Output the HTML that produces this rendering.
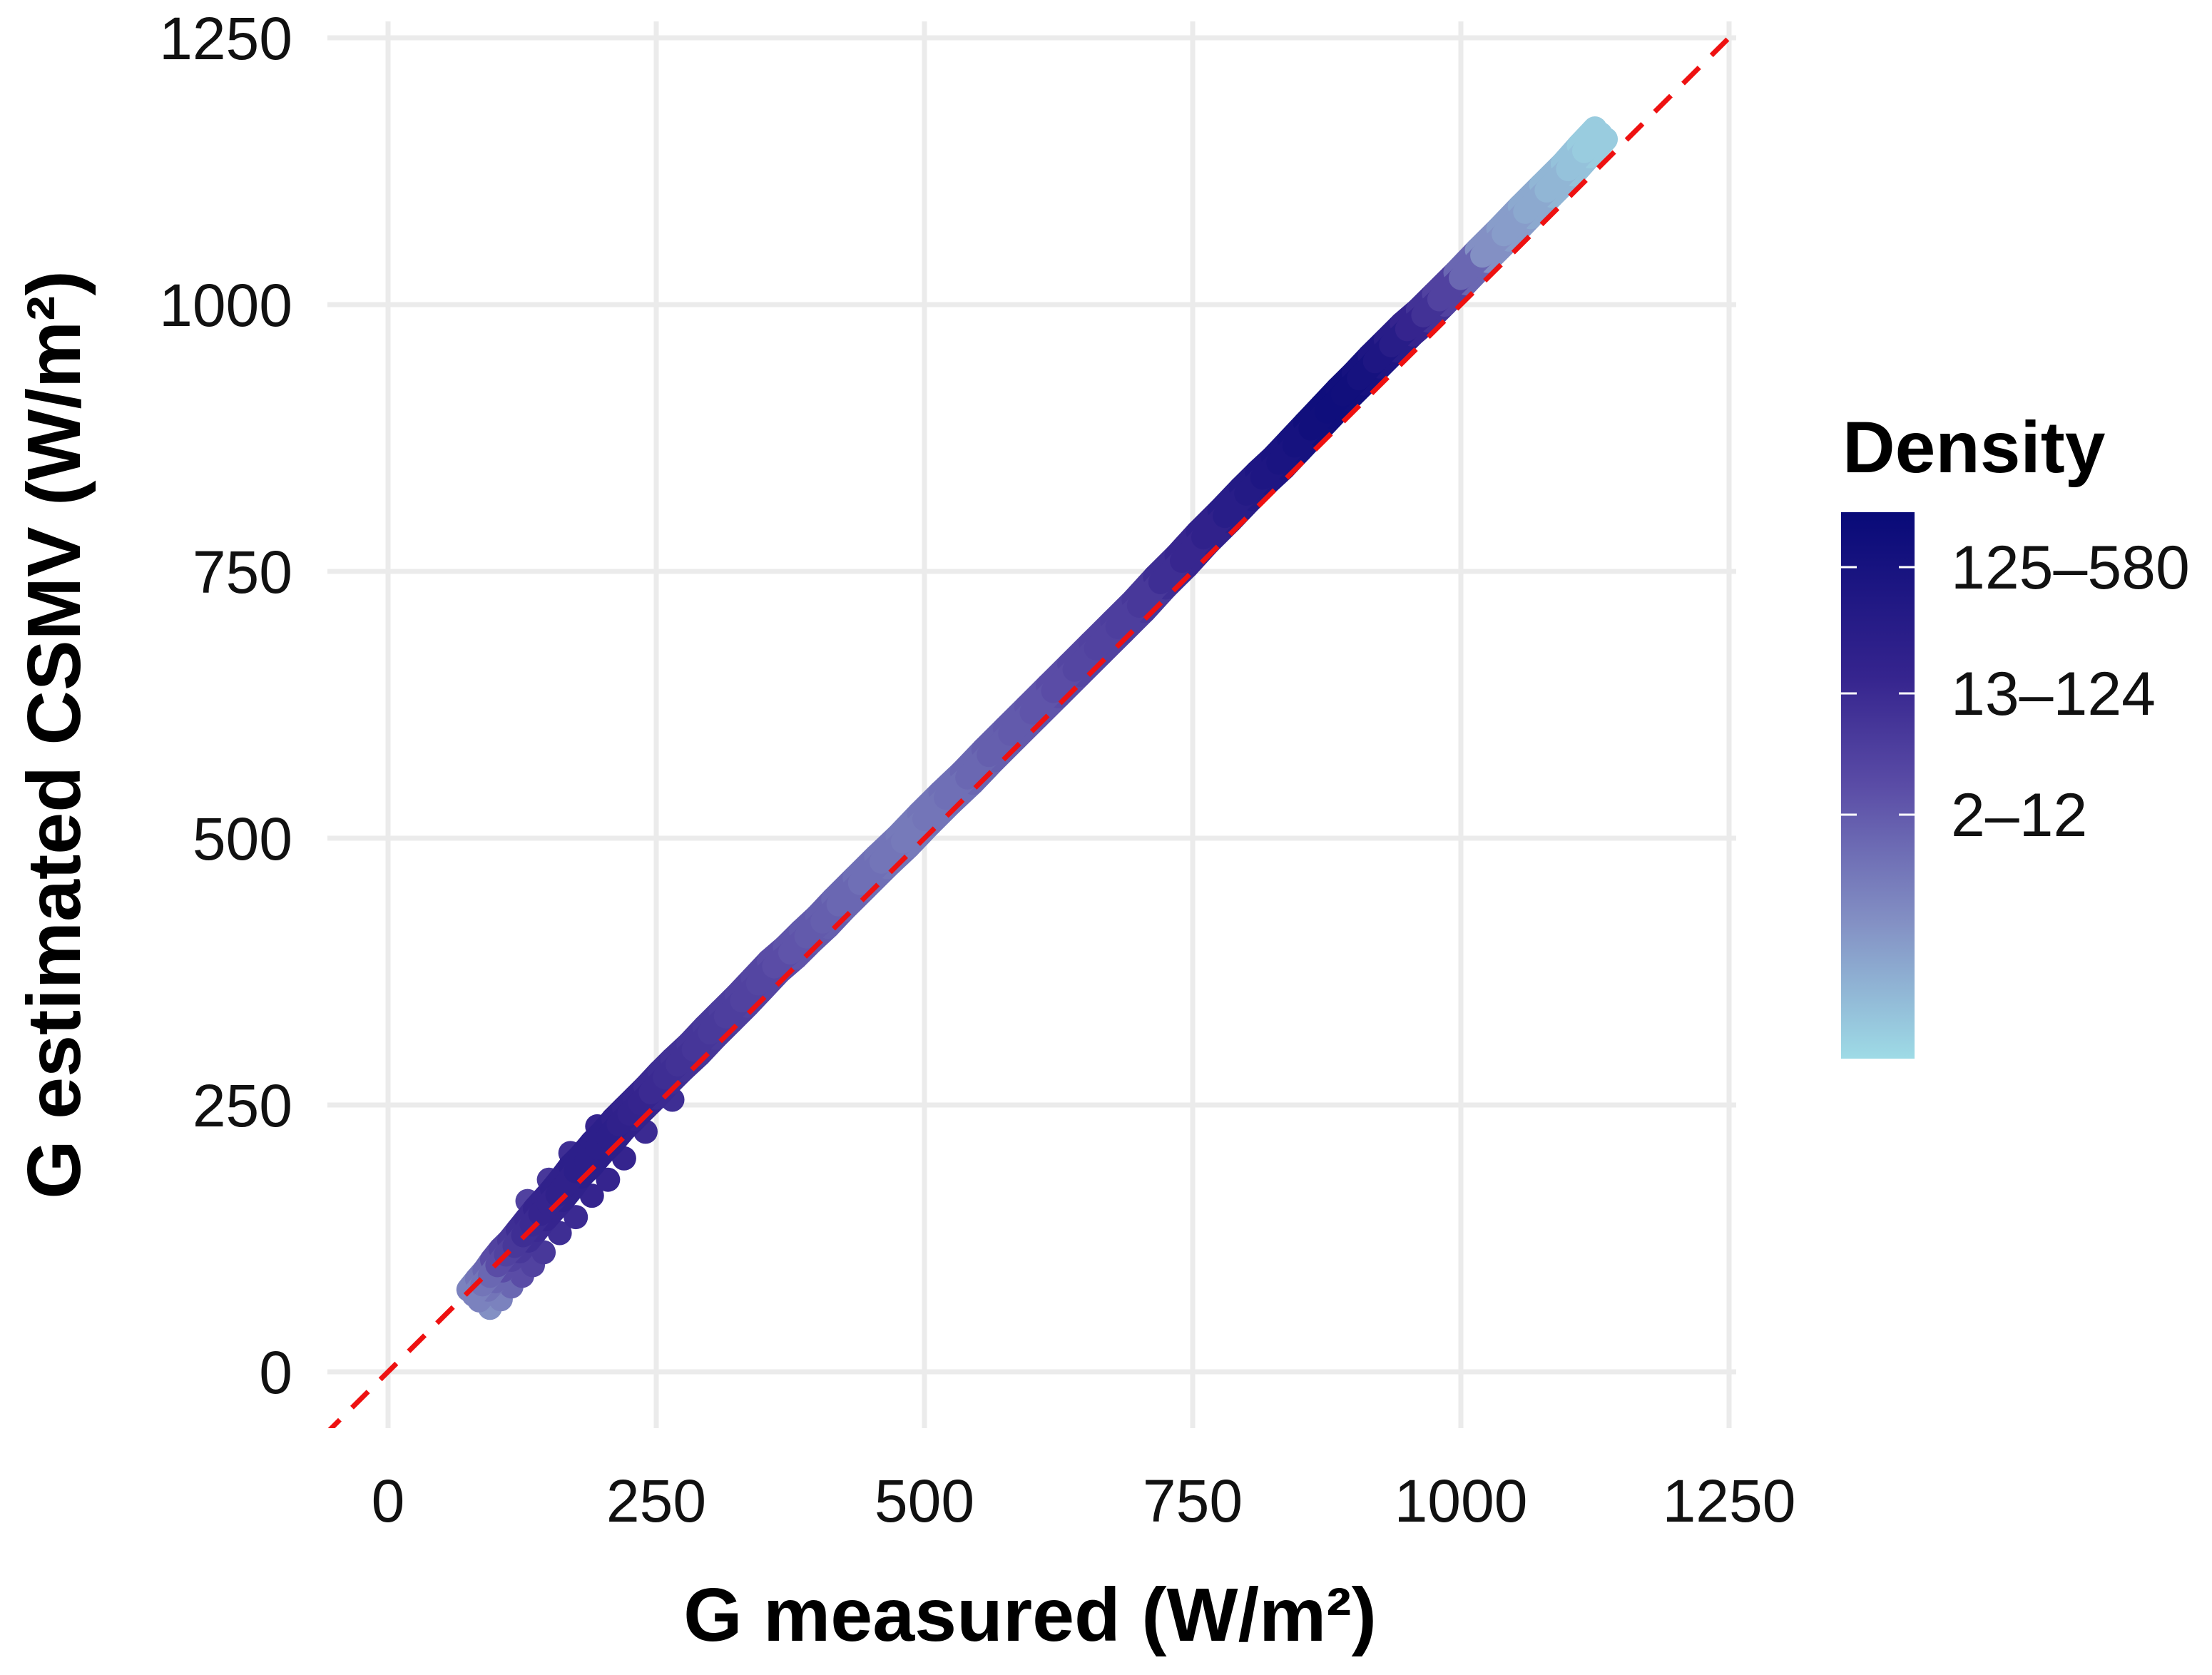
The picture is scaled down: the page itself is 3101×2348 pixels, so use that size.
<!DOCTYPE html>
<html><head><meta charset="utf-8">
<style>
html,body{margin:0;padding:0;background:#fff;}
svg{display:block;font-family:"Liberation Sans",Arial,sans-serif;}
</style></head>
<body>
<svg id="chart" width="3101" height="2348" viewBox="0 0 3101 2348" xmlns="http://www.w3.org/2000/svg">
  <defs>
    <linearGradient id="cbar" x1="0" y1="0" x2="0" y2="1">
      <stop offset="0" stop-color="#080a78"/>
      <stop offset="0.3" stop-color="#35248e"/>
      <stop offset="0.5" stop-color="#5a4ca6"/>
      <stop offset="0.75" stop-color="#8390c4"/>
      <stop offset="1" stop-color="#9edbe6"/>
    </linearGradient>
    <clipPath id="panelclip"><rect x="459" y="30" width="1975" height="1972"/></clipPath>
  </defs>
  <g id="grid"></g>
  <g id="points" clip-path="url(#panelclip)"></g>
  <g id="refline" clip-path="url(#panelclip)"></g>
  <g id="xticks"></g>
  <g id="yticks"></g>
  <text x="1444" y="2300" font-size="106" font-weight="bold" text-anchor="middle">G measured (W/m²)</text>
  <text transform="translate(112,1030) rotate(-90)" font-size="106" font-weight="bold" text-anchor="middle">G estimated CSMV (W/m²)</text>
  <g>
    <text x="2583" y="662" font-size="102" font-weight="bold">Density</text>
    <rect x="2581" y="718" width="103" height="766" fill="url(#cbar)"/>
    <g id="legendticks"></g>
  </g>
</svg>
<script>
const xTicks = [0, 250, 500, 750, 1000, 1250];
const yTicks = [0, 250, 500, 750, 1000, 1250];
const measured = [80,88,95,102,110,118,126,134,142,150,158,166,175,185,195,205,215,225,235,245,258,270,285,300,315,330,345,360,375,390,405,420,440,460,480,500,520,540,560,580,600,620,640,660,680,700,720,740,760,780,800,815,830,845,860,875,890,905,920,935,950,965,980,1000,1020,1040,1060,1080,1100,1115,1130];
const estimated = [72,82,90,100,110,118,128,138,148,157,166,176,188,198,210,220,232,242,252,262,276,288,302,318,333,348,364,380,393,408,422,438,458,478,497,518,538,557,578,598,618,638,658,678,698,718,740,760,782,802,823,838,852,868,884,900,916,931,947,962,977,990,1005,1025,1046,1066,1087,1107,1127,1144,1160];
const density = [0.35,0.4,0.45,0.55,0.6,0.65,0.7,0.72,0.75,0.75,0.78,0.78,0.8,0.8,0.8,0.8,0.78,0.76,0.75,0.72,0.7,0.68,0.66,0.64,0.62,0.6,0.58,0.55,0.52,0.5,0.48,0.45,0.42,0.4,0.38,0.4,0.42,0.45,0.48,0.5,0.52,0.55,0.58,0.6,0.62,0.65,0.7,0.74,0.78,0.82,0.85,0.88,0.9,0.92,0.95,0.96,0.95,0.92,0.88,0.82,0.75,0.68,0.6,0.45,0.3,0.25,0.2,0.15,0.1,0.06,0.03];
const extraMeasured = [95,105,115,125,135,145,160,175,190,205,220,240,265,130,150,170,195];
const extraEstimated = [60,68,80,90,100,112,130,145,165,180,200,225,255,160,180,205,230];
const extraDensity = [0.3,0.35,0.45,0.55,0.6,0.65,0.7,0.72,0.75,0.75,0.75,0.72,0.7,0.6,0.65,0.7,0.75];
const legendLabels = ["125–580","13–124","2–12"];

const X0=544, XPX=376/250, Y0=1923, YPX=374/250;
const sx = v => X0 + v*XPX;
const sy = v => Y0 - v*YPX;
const NS="http://www.w3.org/2000/svg";
const stops=[[0,[158,219,230]],[0.3,[131,144,196]],[0.55,[90,76,166]],[0.75,[53,36,142]],[1,[8,10,120]]];
function col(d){
  for(let i=1;i<stops.length;i++){ if(d<=stops[i][0]){const a=stops[i-1],b=stops[i];const t=(d-a[0])/(b[0]-a[0]);
    return 'rgb('+a[1].map((c,k)=>Math.round(c+(b[1][k]-c)*t)).join(',')+')';}}
  return 'rgb(8,10,120)';
}
const grid=document.getElementById('grid');
xTicks.forEach(t=>{const l=document.createElementNS(NS,'line');
  
  
  l.setAttribute('x1',sx(t));l.setAttribute('x2',sx(t));l.setAttribute('y1',30);l.setAttribute('y2',2002);
  l.setAttribute('stroke','#ebebeb');l.setAttribute('stroke-width',7);grid.appendChild(l);
  const tx=document.createElementNS(NS,'text');
  
  
  tx.setAttribute('x',sx(t));tx.setAttribute('y',2133);tx.setAttribute('font-size',84);tx.setAttribute('text-anchor','middle');tx.setAttribute('fill','#111');
  tx.textContent=t;document.getElementById('xticks').appendChild(tx);});
yTicks.forEach(t=>{const l=document.createElementNS(NS,'line');
  
  
  l.setAttribute('y1',sy(t));l.setAttribute('y2',sy(t));l.setAttribute('x1',459);l.setAttribute('x2',2434);
  l.setAttribute('stroke','#ebebeb');l.setAttribute('stroke-width',7);grid.appendChild(l);
  const tx=document.createElementNS(NS,'text');
  
  
  tx.setAttribute('x',410);tx.setAttribute('y',sy(t)+30);tx.setAttribute('font-size',84);tx.setAttribute('text-anchor','end');tx.setAttribute('fill','#111');
  tx.textContent=t;document.getElementById('yticks').appendChild(tx);});
const pts=document.getElementById('points');
function seg(x1,y1,x2,y2,d){const l=document.createElementNS(NS,'line');
  
  
  l.setAttribute('x1',sx(x1));l.setAttribute('y1',sy(y1));l.setAttribute('x2',sx(x2));l.setAttribute('y2',sy(y2));
  l.setAttribute('stroke',col(d));l.setAttribute('stroke-width',34);l.setAttribute('stroke-linecap','round');pts.appendChild(l);}
function dot(x,y,d){const c=document.createElementNS(NS,'circle');
  
  
  c.setAttribute('cx',sx(x));c.setAttribute('cy',sy(y));c.setAttribute('r',17);c.setAttribute('fill',col(d));pts.appendChild(c);}
extraMeasured.forEach((x,i)=>dot(x,extraEstimated[i],extraDensity[i]));
[-10,10,0].forEach(off=>{for(let i=0;i<measured.length-1;i++){
  seg(measured[i]+off*0.5,estimated[i]-off*0.5,measured[i+1]+off*0.5,estimated[i+1]-off*0.5,density[i]);}});
const rl=document.createElementNS(NS,'line');


rl.setAttribute('x1',sx(-60));rl.setAttribute('y1',sy(-60));rl.setAttribute('x2',sx(1320));rl.setAttribute('y2',sy(1320));
rl.setAttribute('stroke','#ee1111');rl.setAttribute('stroke-width',7);rl.setAttribute('stroke-dasharray','32 24');
document.getElementById('refline').appendChild(rl);
const lt=document.getElementById('legendticks');
legendLabels.forEach((s,i)=>{
  const yy = 718 + [77,254,424][i];
  [[2581,2603],[2662,2684]].forEach(p=>{const l=document.createElementNS(NS,'line');
    
    
    l.setAttribute('x1',p[0]);l.setAttribute('x2',p[1]);l.setAttribute('y1',yy);l.setAttribute('y2',yy);
    l.setAttribute('stroke','#fff');l.setAttribute('stroke-width',3);lt.appendChild(l);});
  const tx=document.createElementNS(NS,'text');
  
  
  tx.setAttribute('x',2735);tx.setAttribute('y',yy+30);tx.setAttribute('font-size',86);tx.setAttribute('fill','#111');
  tx.textContent=s;lt.appendChild(tx);});
</script>
</body></html>
